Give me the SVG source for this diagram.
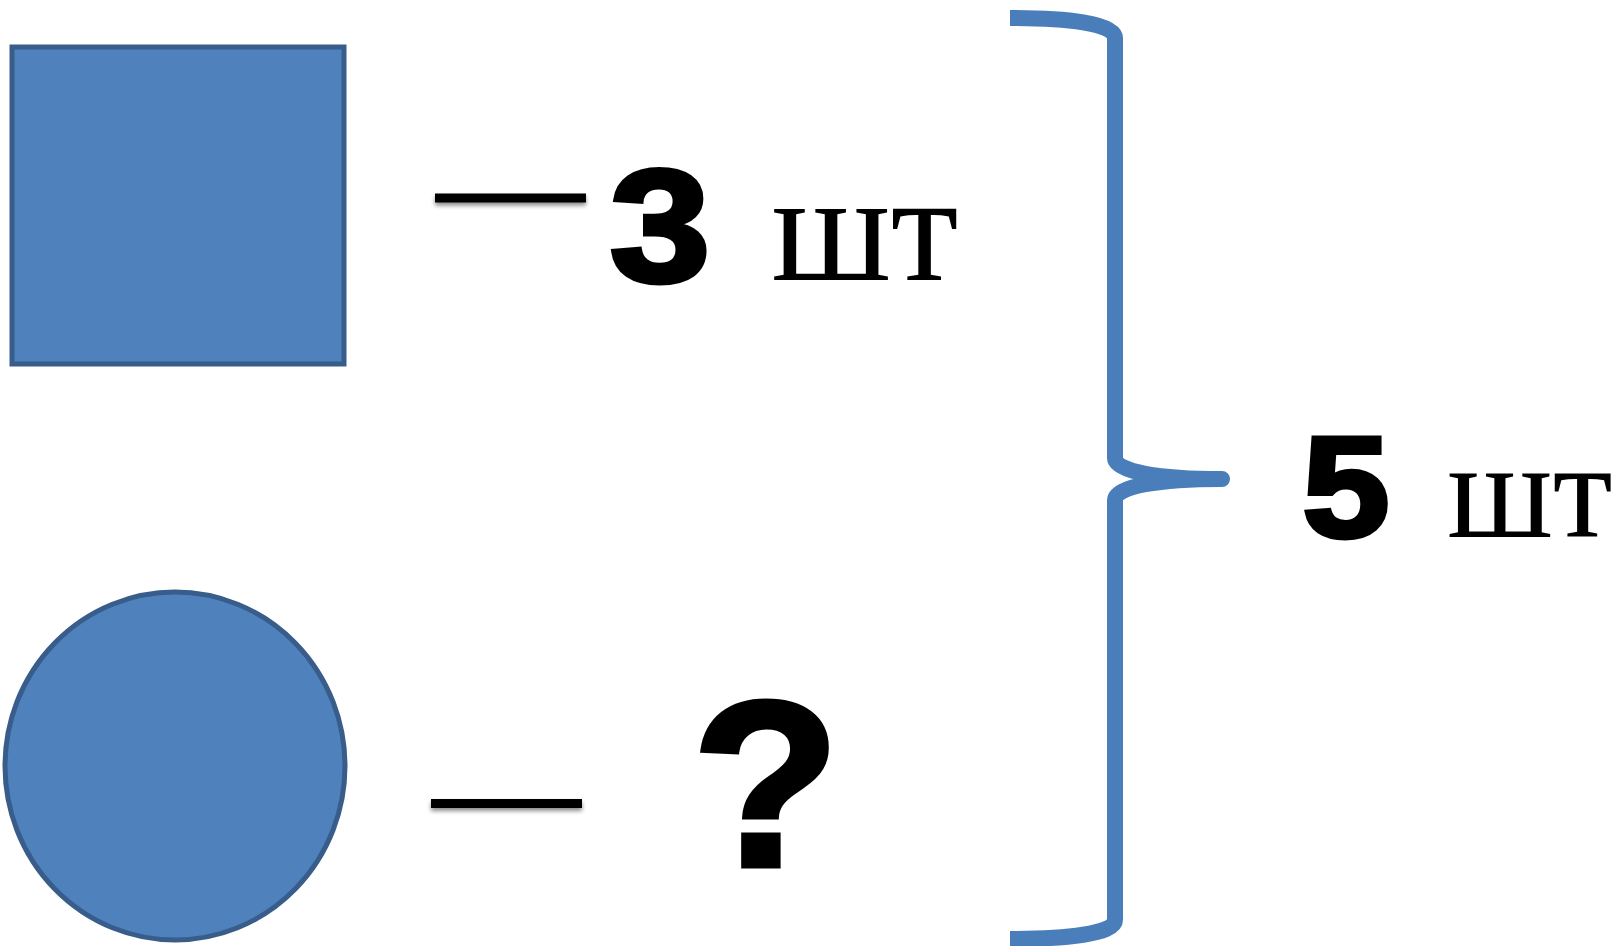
<svg xmlns="http://www.w3.org/2000/svg" width="1621" height="946" viewBox="0 0 1621 946">
<defs>
<filter id="sh" x="-10%" y="-100%" width="120%" height="400%">
<feDropShadow dx="0" dy="3" stdDeviation="2" flood-color="#000" flood-opacity="0.45"/>
</filter>
</defs>
<style>
.shape{fill:#4f81bd;stroke:#385d8a;stroke-width:5}
.dash{fill:#000;filter:url(#sh)}
.num{font-family:"Liberation Sans",Arial,sans-serif;font-weight:bold;fill:#000;stroke:#000;stroke-width:5;text-anchor:middle}
.unit{font-family:"Liberation Serif","Times New Roman",serif;fill:#000;text-anchor:middle}
.brace{fill:none;stroke:#4a7ebb;stroke-width:16;stroke-linejoin:round}
</style>
<rect width="1621" height="946" fill="#fff"/>
<g id="square"><rect class="shape" x="12" y="47" width="332" height="317"/></g>
<g id="circle"><ellipse class="shape" cx="175" cy="766" rx="170" ry="174"/></g>
<g id="connectors">
<rect class="dash" x="435" y="193.5" width="151" height="9"/>
<rect class="dash" x="431" y="799" width="151" height="9"/>
<path class="brace" d="M1010,18 C1065,18 1115,23 1115,38 L1115,458 C1115,472 1160,479 1222,479 C1160,479 1115,486 1115,500 L1115,920 C1115,934 1065,939 1010,939"/>
</g>
<g id="label-3"><text class="num" transform="translate(660,281) scale(1.13,1)" x="0" y="0" font-size="160">3</text><text class="unit" x="865" y="280" font-size="155">шт</text></g>
<g id="label-q"><text class="num" transform="translate(766,866) scale(1.03,1)" x="0" y="0" font-size="236" stroke-width="6">?</text></g>
<g id="label-5"><text class="num" transform="translate(1346,537) scale(1.1,1)" x="0" y="0" font-size="142">5</text><text class="unit" x="1530" y="537" font-size="137">шт</text></g>
</svg>
